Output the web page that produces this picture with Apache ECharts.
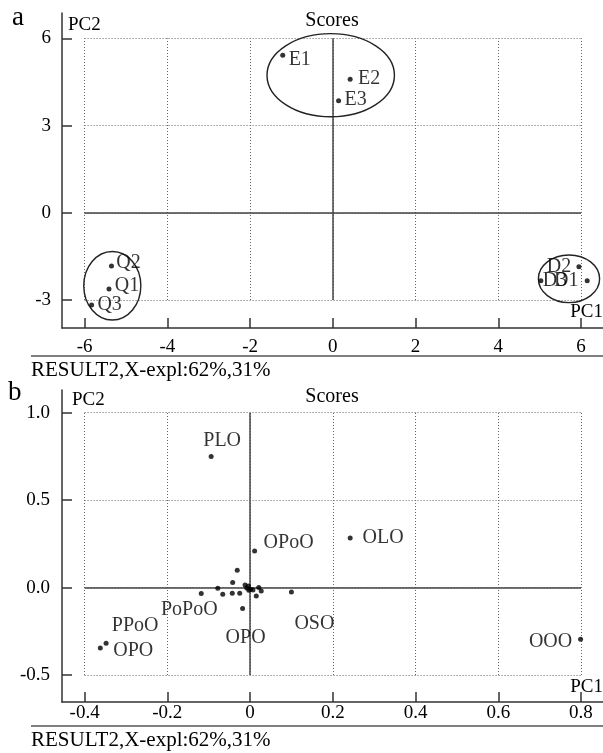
<!DOCTYPE html>
<html>
<head>
<meta charset="utf-8">
<script src="https://cdn.jsdelivr.net/npm/echarts@6/dist/echarts.min.js"></script>
<style>
html,body{margin:0;padding:0;background:#fff;}
#chart{width:603px;height:753px;}
</style>
</head>
<body>
<div id="chart"></div>
<script>
// ---------- Panel a data ----------
const aNames = ['E1','E2','E3','Q1','Q2','Q3','D1','D2','D3'];
const aPC1   = [-1.21, 0.42, 0.14, -5.41, -5.35, -5.83, 6.15, 5.95, 5.03];
const aPC2   = [5.42, 4.59, 3.85, -2.62, -1.83, -3.17, -2.34, -1.86, -2.34];
// group ellipses (centre x, centre y, radius x, radius y)
const groupNames = ['E','Q','D'];
const groupCX = [-0.05, -5.33, 5.71];
const groupCY = [4.73, -2.51, -2.27];
const groupRX = [1.54, 0.69, 0.74];
const groupRY = [1.43, 1.18, 0.82];
const aXTicks = [-6,-4,-2,0,2,4,6];
const aYTicks = [-3,0,3,6];

// ---------- Panel b data ----------
const bNames = ['PLO','OLO','OPoO','OOO','OPO','PPoO','PoPoO','OPO','OSO',
  '','','','','','','','','','','','','','',''];
const bPC1 = [-0.094, 0.242, 0.011, 0.799, -0.362, -0.348, -0.118, -0.018, 0.100,
  -0.078, -0.066, -0.043, -0.025, -0.042, -0.031, -0.012, -0.008, -0.003, 0.001, 0.007, 0.015, 0.021, 0.027, -0.004];
const bPC2 = [0.749, 0.284, 0.209, -0.296, -0.345, -0.318, -0.034, -0.120, -0.025,
  -0.004, -0.038, -0.033, -0.033, 0.029, 0.099, 0.015, -0.002, -0.015, -0.010, -0.014, -0.048, 0.000, -0.019, 0.009];
const bXTicks = [-0.4,-0.2,0,0.2,0.4,0.6,0.8];
const bYTicks = [-0.5,0,0.5,1.0];

const axisTitleX = 'PC1', axisTitleY = 'PC2', panelTitle = 'Scores';
const footer = 'RESULT2,X-expl:62%,31%';

// ---------- label placement (styles, px offsets from point) ----------
const aLabelOffsets = {
  E1:[17,5], E2:[19,-1], E3:[17,-1], Q1:[18,-3], Q2:[17,-3], Q3:[18,0],
  D1:[-21,0], D2:[-20,0], D3:[14,0]
};
const bLabelOffsets = [[11,-16],[33,0],[34,-8],[-30,2],[33,3],[29,-17],[-12,16],[3,29],[23,32]];

const FONT = '"Liberation Serif","Times New Roman",serif';
const INK = '#000';
const AXIS = '#333';

function gridLines(xt, yt) {
  const res = [];
  const dotted = {type:[1,2], color:'#666', width:1};
  xt.forEach(x => res.push([{coord:[x, yt[0]], lineStyle:dotted},{coord:[x, yt[yt.length-1]]}]));
  yt.forEach(y => res.push([{coord:[xt[0], y], lineStyle:dotted},{coord:[xt[xt.length-1], y]}]));
  const solid = {type:'solid', color:'#444', width:1.5};
  res.push([{coord:[0, yt[0]], lineStyle:solid},{coord:[0, yt[yt.length-1]]}]);
  res.push([{coord:[xt[0], 0], lineStyle:solid},{coord:[xt[xt.length-1], 0]}]);
  return res;
}

function axisCommon(ticks, fmt, margin) {
  return {
    type:'value',
    axisLine:{show:true, onZero:false, lineStyle:{color:AXIS, width:1.5}},
    axisTick:{show:true, inside:true, length:10, customValues:ticks, lineStyle:{color:AXIS, width:1.5}},
    axisLabel:{show:true, customValues:ticks, formatter:fmt, margin:margin,
      fontFamily:FONT, fontSize:19, color:INK},
    splitLine:{show:false}
  };
}

const aPoints = aNames.map((n,i) => ({
  name:n, value:[aPC1[i], aPC2[i]],
  label:{show:true, formatter:n, position:'inside', offset:aLabelOffsets[n],
    color:INK, fontFamily:FONT, fontSize:20}
}));
const bPoints = bNames.map((n,i) => {
  const item = {name:n, value:[bPC1[i], bPC2[i]]};
  if (n) item.label = {show:true, formatter:n, position:'inside', offset:bLabelOffsets[i],
    color:INK, fontFamily:FONT, fontSize:20};
  return item;
});
const ellipses = groupNames.map((g,i) => [groupCX[i], groupCY[i], groupRX[i], groupRY[i]]);

const chart = echarts.init(document.getElementById('chart'), null, {renderer:'canvas'});

function txt(text, x, y, size, align) {
  return {type:'text', x:x, y:y, silent:true, z:10,
    style:{text:text, font:size+'px '+FONT, fill:INK, align:align||'left', verticalAlign:'middle'}};
}
function hline(y) {
  return {type:'line', silent:true, shape:{x1:31, y1:y, x2:603, y2:y}, style:{stroke:'#555', lineWidth:1.5}};
}

chart.setOption({
  animation:false,
  backgroundColor:'#fff',
  grid:[
    {left:62, right:0, top:13, bottom:425},
    {left:62, right:0, top:390, bottom:51}
  ],
  xAxis:[
    Object.assign(axisCommon(aXTicks, v => String(v), 10), {gridIndex:0, min:-6.546, max:6.532}),
    Object.assign(axisCommon(bXTicks, v => (Math.abs(v) < 1e-9 ? '0' : v.toFixed(1)), 2), {gridIndex:1, min:-0.4546, max:0.8532})
  ],
  yAxis:[
    Object.assign(axisCommon(aYTicks, v => String(v), 11), {gridIndex:0, min:-3.963, max:6.870}),
    Object.assign(axisCommon(bYTicks, v => v.toFixed(1), 12), {gridIndex:1, min:-0.6544, max:1.1298})
  ],
  series:[
    {
      type:'scatter', xAxisIndex:0, yAxisIndex:0, data:aPoints,
      symbol:'circle', symbolSize:5, itemStyle:{color:INK}, z:5,
      markLine:{silent:true, symbol:['none','none'], label:{show:false}, data:gridLines(aXTicks, aYTicks), z:1}
    },
    {
      type:'custom', xAxisIndex:0, yAxisIndex:0, data:ellipses, z:4,
      encode:{x:0, y:1},
      renderItem:function(params, api){
        const c = api.coord([api.value(0), api.value(1)]);
        const s = api.size([api.value(2), api.value(3)]);
        return {type:'ellipse', shape:{cx:c[0], cy:c[1], rx:s[0], ry:s[1]},
          style:{fill:null, stroke:'#222', lineWidth:1.4}};
      }
    },
    {
      type:'scatter', xAxisIndex:1, yAxisIndex:1, data:bPoints,
      symbol:'circle', symbolSize:5, itemStyle:{color:INK}, z:5,
      markLine:{silent:true, symbol:['none','none'], label:{show:false}, data:gridLines(bXTicks, bYTicks), z:1}
    }
  ],
  graphic:[
    txt('a', 12, 18, 27),
    txt(axisTitleY, 68, 25, 19),
    txt(panelTitle, 332, 21, 20, 'center'),
    txt(axisTitleX, 603, 312, 19, 'right'),
    hline(356),
    txt(footer, 31, 370, 21),
    txt('b', 8, 393, 27),
    txt(axisTitleY, 72, 400, 19),
    txt(panelTitle, 332, 397, 20, 'center'),
    txt(axisTitleX, 603, 687, 19, 'right'),
    hline(726),
    txt(footer, 31, 740, 21)
  ]
});
</script>
</body>
</html>
